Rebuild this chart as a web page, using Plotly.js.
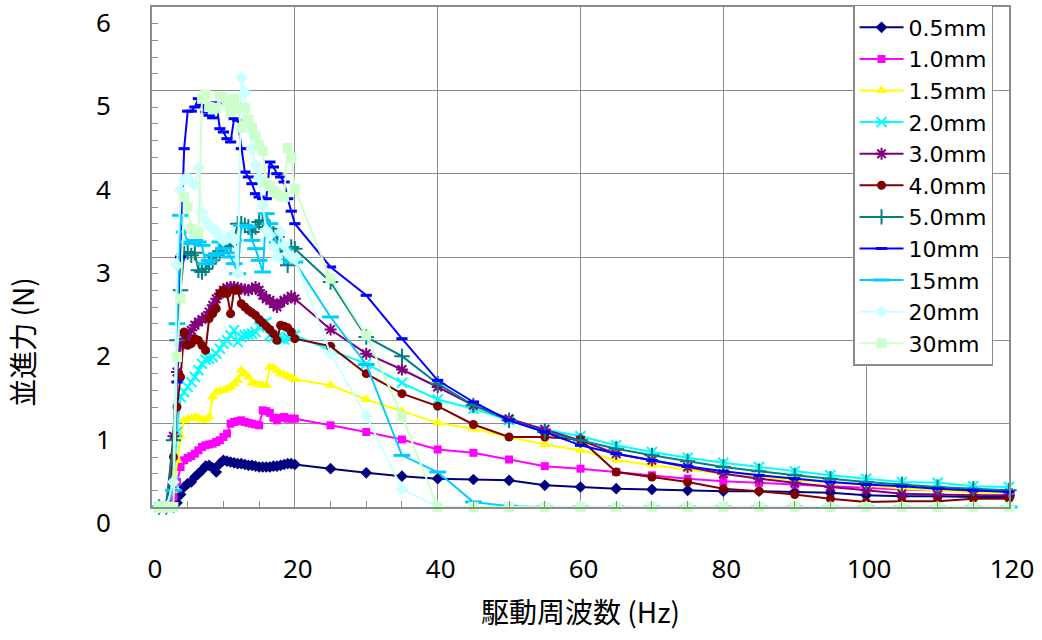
<!DOCTYPE html>
<html>
<head>
<meta charset="utf-8">
<script src="https://cdn.plot.ly/plotly-3.0.1.min.js"></script>
<style>html,body{margin:0;padding:0;background:#fff;}#chart{width:1042px;height:640px;}</style>
</head>
<body>
<div id="chart"></div>
<script>
// Frequencies (Hz)
const freqLow = [1,2,3,3.5,4,4.5,5,5.5,6,6.5,7,7.5,8,8.5,9,9.5,10,10.5,11,11.5,12,12.5,13,13.5,14,14.5,15,15.5,16,16.5,17,17.5,18,18.5,19,19.5,20];
const freqHigh = [25,30,35,40,45,50,55,60,65,70,75,80,85,90,95,100,105,110,115,120];

const seriesNames = ["0.5mm","1.0mm","1.5mm","2.0mm","3.0mm","4.0mm","5.0mm","10mm","15mm","20mm","30mm"];

// Translational force (N)
const f05Low = [0,0,0,0.05,0.15,0.24,0.28,0.30,0.36,0.40,0.44,0.49,0.50,0.47,0.42,0.52,0.56,0.55,0.54,0.53,0.52,0.52,0.51,0.50,0.50,0.49,0.48,0.48,0.48,0.48,0.49,0.49,0.50,0.51,0.52,0.52,0.51];
const f05High = [0.46,0.41,0.37,0.34,0.33,0.32,0.26,0.24,0.22,0.21,0.20,0.19,0.19,0.18,0.17,0.14,0.13,0.13,0.12,0.12];

const f10Low = [0,0,0.12,0.30,0.48,0.56,0.59,0.61,0.64,0.68,0.72,0.74,0.75,0.76,0.78,0.80,0.84,0.88,1.00,1.02,1.03,1.04,1.02,1.01,1.00,0.99,0.98,1.16,1.15,1.13,1.07,1.04,1.07,1.08,1.06,1.06,1.06];
const f10High = [0.98,0.90,0.81,0.69,0.65,0.57,0.49,0.46,0.42,0.38,0.34,0.31,0.29,0.27,0.25,0.23,0.21,0.20,0.19,0.18];

const f15Low = [0,0,0.20,0.56,0.85,1.04,1.06,1.06,1.08,1.07,1.04,1.05,1.08,1.32,1.38,1.39,1.40,1.42,1.44,1.48,1.52,1.64,1.60,1.56,1.49,1.48,1.47,1.46,1.46,1.68,1.67,1.64,1.60,1.59,1.57,1.55,1.53];
const f15High = [1.46,1.29,1.15,1.01,0.94,0.84,0.75,0.68,0.56,0.50,0.45,0.40,0.36,0.32,0.29,0.26,0.22,0.20,0.17,0.17];

const f20Low = [0,0,0.30,0.90,1.32,1.38,1.44,1.50,1.56,1.64,1.72,1.77,1.78,1.80,1.84,1.90,1.96,2.00,2.06,2.12,1.98,2.04,2.06,2.07,2.08,2.10,2.16,2.20,2.22,2.06,2.04,2.03,2.02,2.01,2.04,2.06,2.06];
const f20High = [1.88,1.72,1.49,1.29,1.18,1.04,0.93,0.85,0.74,0.66,0.59,0.53,0.48,0.43,0.38,0.34,0.30,0.29,0.25,0.24];

const f30Low = [0,0,0.85,1.62,1.95,2.02,2.06,2.12,2.18,2.22,2.25,2.28,2.34,2.42,2.50,2.56,2.60,2.63,2.64,2.64,2.63,2.62,2.61,2.60,2.62,2.64,2.60,2.54,2.50,2.48,2.44,2.40,2.45,2.48,2.50,2.53,2.50];
const f30High = [2.13,1.84,1.65,1.44,1.22,1.06,0.93,0.80,0.64,0.56,0.48,0.40,0.34,0.29,0.24,0.20,0.16,0.15,0.14,0.14];

const f40Low = [0,0,0.60,1.20,1.56,2.10,1.94,1.96,2.02,2.00,1.94,1.88,2.26,2.32,2.38,2.56,2.60,2.56,2.32,2.60,2.60,2.44,2.40,2.36,2.33,2.30,2.25,2.21,2.17,2.13,2.08,2.00,2.18,2.17,2.15,2.10,2.02];
const f40High = [1.93,1.60,1.36,1.21,0.99,0.84,0.84,0.81,0.42,0.36,0.30,0.22,0.19,0.15,0.10,0.06,0.07,0.07,0.10,0.10];

const f50Low = [0,0,0.80,2.00,2.60,3.04,3.06,3.02,3.05,2.84,2.82,2.86,2.92,2.96,3.02,3.07,3.10,3.13,3.15,3.20,3.40,3.40,3.38,3.36,3.30,3.36,3.42,3.44,3.40,3.34,3.28,3.24,3.14,3.00,2.90,3.12,3.10];
const f50High = [2.70,2.04,1.81,1.48,1.22,1.04,0.90,0.80,0.70,0.62,0.55,0.48,0.43,0.38,0.34,0.30,0.27,0.24,0.22,0.20];

const f100Low = [0,0,0.30,1.50,3.00,4.30,4.75,4.75,4.80,4.90,4.82,4.74,4.70,4.67,4.85,4.54,4.50,4.42,4.38,4.66,4.64,4.30,4.02,3.96,3.88,3.76,3.72,3.70,3.70,4.14,4.08,4.00,3.96,3.90,3.70,3.55,3.40];
const f100High = [2.88,2.54,2.02,1.52,1.26,1.04,0.90,0.74,0.64,0.56,0.49,0.43,0.38,0.34,0.30,0.27,0.25,0.22,0.20,0.18];

const f150Low = [0,0,0.20,2.20,3.50,3.30,3.18,3.16,3.20,3.18,3.14,2.92,2.96,3.02,3.04,3.18,3.10,3.05,3.00,2.92,2.80,3.38,3.38,3.36,3.20,3.10,2.96,2.82,3.52,3.40,3.26,3.18,3.14,3.10,2.98,2.94,2.94];
const f150High = [2.28,1.71,0.62,0.42,0.06,0.01,0,0,0,0,0,0,0,0,0,0,0,0,0,0];

const f200Low = [0,0,0.30,2.90,3.80,3.93,3.95,3.90,3.87,4.07,3.54,3.44,3.38,3.34,3.32,3.24,3.20,3.22,3.26,3.20,2.80,5.15,4.97,4.60,4.30,4.10,3.95,3.62,3.32,3.26,3.12,3.00,3.30,3.14,3.04,3.00,2.98];
const f200High = [1.84,1.09,0.22,0,0,0,0,0,0,0,0,0,0,0,0,0,0,0,0,0];

const f300Low = [0,0,0,1.80,2.50,3.72,3.60,3.34,3.28,3.30,4.90,4.95,4.80,4.77,4.79,4.93,4.91,4.85,4.75,4.90,4.78,4.55,4.79,4.65,4.55,4.45,4.35,4.27,3.89,3.85,3.80,3.76,3.73,3.72,4.31,4.19,3.82];
const f300High = [2.74,2.06,1.09,0,0,0,0,0,0,0,0,0,0,0,0,0,0,0,0,0];

const xTitle = "駆動周波数 (Hz)";
const yTitle = "並進力 (N)";

const freqAll = freqLow.concat(freqHigh);
const valueSets = [
  f05Low.concat(f05High), f10Low.concat(f10High), f15Low.concat(f15High),
  f20Low.concat(f20High), f30Low.concat(f30High), f40Low.concat(f40High),
  f50Low.concat(f50High), f100Low.concat(f100High), f150Low.concat(f150High),
  f200Low.concat(f200High), f300Low.concat(f300High)
];

const styles = [
  {c:"#000080", s:"diamond", z:9, w:0},
  {c:"#FF00FF", s:"square", z:8, w:0},
  {c:"#FFFF00", s:"triangle-up", z:10, w:0},
  {c:"#00FFFF", s:"x-thin-open", z:10, w:2},
  {c:"#800080", s:"asterisk-open", z:10, w:2},
  {c:"#800000", s:"circle", z:9, w:0},
  {c:"#008080", s:"cross-thin-open", z:11, w:2},
  {c:"#0000FF", s:"line-ew-open", z:8, w:3},
  {c:"#00CCFF", s:"line-ew-open", z:12, w:3},
  {c:"#CCFFFF", s:"diamond", z:10, w:0},
  {c:"#CCFFCC", s:"square", z:10, w:0}
];

const traces = seriesNames.map((name, i) => ({
  type: "scatter",
  mode: "lines+markers",
  name: name,
  x: freqAll,
  y: valueSets[i],
  cliponaxis: false,
  line: {color: styles[i].c, width: 2},
  marker: {color: styles[i].c, symbol: styles[i].s, size: styles[i].z,
           line: {color: styles[i].c, width: styles[i].w}}
}));

const layout = {
  width: 1042, height: 640,
  margin: {l: 152, r: 33, t: 6, b: 133},
  paper_bgcolor: "#ffffff",
  plot_bgcolor: "#ffffff",
  showlegend: true,
  font: {family: "Noto Sans, sans-serif", color: "#000"},
  xaxis: {
    range: [0, 120], dtick: 20, tick0: 0,
    showgrid: true, gridcolor: "#8c8c8c", gridwidth: 1,
    showline: true, linecolor: "#8c8c8c", linewidth: 2, mirror: true,
    zeroline: false, ticks: "",
    minor: {dtick: 5, ticks: "inside", ticklen: 6, tickcolor: "#8c8c8c", tickwidth: 1, showgrid: false},
    tickfont: {family: "Noto Sans", size: 26, color: "#000"},
    ticklabelstandoff: 38, ticklabelshift: 3,
    automargin: false,
    title: {text: xTitle, font: {family: "Noto Sans CJK JP", size: 28, color: "#000"}, standoff: 18}
  },
  yaxis: {
    range: [0, 6], dtick: 1, tick0: 0,
    showgrid: true, gridcolor: "#8c8c8c", gridwidth: 1,
    showline: true, linecolor: "#8c8c8c", linewidth: 2, mirror: true,
    zeroline: false, ticks: "",
    minor: {dtick: 0.2, ticks: "inside", ticklen: 6, tickcolor: "#8c8c8c", tickwidth: 1, showgrid: false},
    tickfont: {family: "Noto Sans", size: 26, color: "#000"},
    ticklabelstandoff: 34, ticklabelshift: 16,
    automargin: false
  },
  legend: {
    x: 0.818, y: 1.002, xanchor: "left", yanchor: "top",
    bgcolor: "#ffffff", bordercolor: "#8c8c8c", borderwidth: 1.5,
    font: {family: "DejaVu Sans", size: 22, color: "#000"},
    itemwidth: 44, valign: "top", tracegroupgap: 0,
    maxheight: 600
  },
  annotations: [{
    text: yTitle, xref: "paper", yref: "paper",
    x: -0.152, y: 0.33, xanchor: "center", yanchor: "middle",
    textangle: -90, showarrow: false,
    font: {family: "Noto Sans CJK JP", size: 28, color: "#000"}
  }]
};

Plotly.newPlot("chart", traces, layout, {displayModeBar: false, staticPlot: true});
</script>
</body>
</html>
